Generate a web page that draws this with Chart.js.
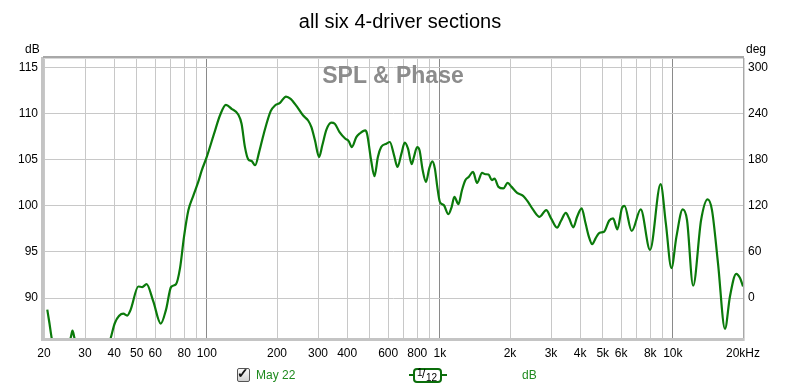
<!DOCTYPE html>
<html>
<head>
<meta charset="utf-8">
<script src="https://cdn.jsdelivr.net/npm/chart.js@4/dist/chart.umd.min.js"></script>
<style>
  html, body { margin:0; padding:0; background:#fff; }
  #wrap { position:relative; width:800px; height:390px; font-family:"Liberation Sans", Arial, sans-serif; }
  #c { position:absolute; left:0; top:0; }
  .lbl { position:absolute; white-space:nowrap; font-size:12px; line-height:14px; }
</style>
</head>
<body>
<div id="wrap">
  <canvas id="c" width="800" height="390"></canvas>
  <div class="lbl" style="left:25px;top:42px;color:#000;">dB</div>
  <div class="lbl" style="left:746px;top:42px;color:#000;">deg</div>
  <div class="lbl" style="left:0;width:786px;top:61px;text-align:center;font-size:23px;line-height:28px;font-weight:bold;color:#8c8c8c;">SPL &amp; Phase</div>
  <div style="position:absolute;left:237px;top:368px;width:11px;height:12px;border:1px solid #555;border-radius:2px;background:linear-gradient(#fafafa,#cfcfcf);"></div>
  <div class="lbl" style="left:236px;top:366px;width:14px;text-align:center;font-size:14px;font-weight:bold;color:#111;">&#10003;</div>
  <div class="lbl" style="left:256px;top:368px;color:#1f8a1f;">May 22</div>
  <div style="position:absolute;left:409px;top:374px;width:38px;height:2px;background:#0b6e0b;"></div>
  <div style="position:absolute;left:413px;top:368px;width:25px;height:11px;border:2px solid #0b6e0b;border-radius:4px;background:#fff;"></div>
  <div class="lbl" style="left:417px;top:367px;font-size:10px;line-height:11px;color:#000;">1</div>
  <div class="lbl" style="left:422px;top:368px;font-size:12px;line-height:13px;color:#000;">/</div>
  <div class="lbl" style="left:426px;top:372px;font-size:10px;line-height:11px;color:#000;">12</div>
  <div class="lbl" style="left:522px;top:368px;color:#1f8a1f;">dB</div>
</div>
<script>
// ---- data ----
const freqs = [20.66, 21.1, 21.6, 22.5, 24, 25.3, 26.1, 26.5, 27.0, 28, 31, 35, 37.5, 38.7, 40.3, 43.8, 45.5, 47.1, 50.8, 52.8, 55.1, 58.9, 63.4, 66.8, 70.2, 73.7, 76.7, 79.8, 83.3, 87.5, 91.9, 95, 99.9, 107.4, 113.9, 120.7, 127.7, 136.3, 140.9, 145.7, 150.5, 155.6, 161.2, 167.6, 175.5, 187.9, 196, 206, 218.6, 228.8, 242.8, 259, 272, 281, 291, 303, 313, 326, 342, 354, 371, 393, 406, 419, 438, 452, 478, 487, 507, 524, 542, 560, 590, 610, 636, 658, 684, 707, 730, 757, 774, 799, 818, 844, 872, 900, 928, 952, 975, 1000, 1040, 1088, 1124, 1154, 1202, 1244, 1286, 1330, 1388, 1444, 1518, 1568, 1618, 1672, 1716, 1784, 1872, 1954, 2032, 2146, 2276, 2390, 2508, 2680, 2860, 3002, 3184, 3308, 3472, 3586, 3738, 3882, 4060, 4220, 4360, 4508, 4660, 4850, 5066, 5324, 5540, 5780, 6040, 6200, 6660, 7280, 7980, 8860, 9330, 9860, 10360, 11020, 11500, 12220, 13220, 14100, 14720, 15620, 16740, 17580, 18700, 19420, 20000];
const splDb = [88.74, 87.3, 85.6, 83.8, 83.0, 84.6, 85.8, 86.47, 85.7, 84.2, 82.5, 82.8, 84.6, 85.7, 87.3, 88.3, 88.1, 88.74, 91.25, 91.19, 91.5, 89.63, 87.23, 88.74, 91.19, 91.5, 93.24, 96.65, 99.5, 101.1, 102.6, 103.8, 105.28, 107.8, 109.8, 110.93, 110.5, 109.88, 108.88, 106.35, 105.03, 104.84, 104.38, 105.8, 107.8, 110.24, 110.85, 111.14, 111.82, 111.57, 110.78, 109.77, 109.23, 108.51, 107.08, 105.28, 106.54, 108.23, 108.99, 108.88, 107.97, 107.26, 107.0, 106.35, 107.43, 107.8, 108.16, 107.8, 104.92, 103.19, 105.28, 106.35, 106.72, 106.9, 105.46, 104.2, 105.64, 106.83, 106.18, 104.49, 105.28, 106.35, 106.0, 103.84, 102.58, 104.02, 104.81, 104.02, 102.04, 100.42, 100.06, 99.09, 99.88, 100.96, 100.17, 101.68, 102.76, 103.12, 103.66, 102.47, 103.55, 103.41, 103.38, 102.76, 102.94, 102.04, 101.87, 102.47, 102.04, 101.39, 101.07, 100.42, 99.6, 98.8, 99.52, 98.63, 97.62, 98.34, 99.23, 98.63, 97.66, 98.8, 99.71, 98.09, 96.65, 95.83, 96.47, 97.08, 97.18, 98.37, 98.63, 97.44, 99.71, 99.98, 97.26, 99.6, 95.21, 102.33, 98.09, 93.24, 96.65, 99.6, 98.45, 91.33, 98.45, 100.68, 99.52, 93.78, 86.66, 90.17, 92.62, 92.16, 91.25];
const xGrid = [20,30,40,50,60,70,80,90,100,200,300,400,500,600,700,800,900,1000,2000,3000,4000,5000,6000,7000,8000,9000,10000,20000];
const xLabels = {20:'20',30:'30',40:'40',50:'50',60:'60',80:'80',100:'100',200:'200',300:'300',400:'400',600:'600',800:'800',1000:'1k',2000:'2k',3000:'3k',4000:'4k',5000:'5k',6000:'6k',8000:'8k',10000:'10k',20000:'20kHz'};
const dbTicks = [90,95,100,105,110,115];
const degTicks = [0,60,120,180,240,300];
const decadeLines = [100,1000,10000];

const points = freqs.map((f,i)=>({x:f, y:splDb[i]}));

const framePlugin = {
  id:'frame',
  afterDatasetsDraw(chart){
    const {ctx, chartArea:a} = chart;
    ctx.save();
    ctx.fillStyle = '#c4c4c4';
    ctx.fillRect(a.left-3, a.top-1, 3, a.bottom-a.top+4);
    ctx.fillRect(a.left-3, a.bottom, a.right-a.left+4, 3);
    ctx.fillStyle = '#a8a8a8';
    ctx.fillRect(a.left-1, a.top-2, a.right-a.left+2, 2);
    ctx.fillStyle = '#d8d8d8';
    ctx.fillRect(a.left, a.top, a.right-a.left, 1);
    ctx.fillStyle = '#a8a8a8';
    ctx.fillRect(a.right, a.top-2, 1, a.bottom-a.top+2);
    ctx.fillStyle = '#d8d8d8';
    ctx.fillRect(a.right+1, a.top, 1, a.bottom-a.top+3);
    ctx.restore();
  }
};

new Chart(document.getElementById('c'), {
  type:'line',
  data:{ datasets:[{
    data: points,
    borderColor:'#0b7a0b',
    borderWidth:2.2,
    pointRadius:0,
    cubicInterpolationMode:'monotone',
    fill:false,
    clip:0,
    yAxisID:'y'
  }]},
  options:{
    responsive:false,
    animation:false,
    events:[],
    layout:{ padding:{left:0,right:0,top:0,bottom:0} },
    plugins:{
      legend:{display:false},
      tooltip:{enabled:false},
      title:{
        display:true,
        text:'all six 4-driver sections',
        color:'#000',
        font:{family:'"Liberation Sans", Arial, sans-serif', size:20, weight:'normal'},
        padding:{top:10,bottom:24}
      }
    },
    scales:{
      x:{
        type:'logarithmic',
        min:20, max:20000,
        afterBuildTicks(s){ s.ticks = xGrid.map(v=>({value:v})); },
        afterFit(s){ s.height = 52; },
        ticks:{
          autoSkip:false, maxRotation:0, minRotation:0,
          padding:8,
          color:'#000',
          font:{family:'"Liberation Sans", Arial, sans-serif', size:12},
          callback(v){ return xLabels[v] || ''; }
        },
        grid:{
          drawTicks:false,
          color(c){ return (c.tick && decadeLines.includes(c.tick.value)) ? '#8a8a8a' : '#c8c8c8'; },
          lineWidth:1
        },
        border:{display:false}
      },
      y:{
        type:'linear', position:'left',
        min:85.67, max:116,
        afterBuildTicks(s){ s.ticks = dbTicks.map(v=>({value:v})); },
        afterFit(s){ s.width = 44; },
        ticks:{
          padding:6, color:'#000',
          font:{family:'"Liberation Sans", Arial, sans-serif', size:12},
          callback(v){ return String(v); }
        },
        grid:{ drawTicks:false, color:'#c8c8c8', lineWidth:1 },
        border:{display:false}
      },
      y2:{
        type:'linear', position:'right',
        min:-52, max:312,
        afterBuildTicks(s){ s.ticks = degTicks.map(v=>({value:v})); },
        afterFit(s){ s.width = 57; },
        ticks:{
          padding:5, color:'#000',
          font:{family:'"Liberation Sans", Arial, sans-serif', size:12},
          callback(v){ return String(v); }
        },
        grid:{ display:false, drawTicks:false },
        border:{display:false}
      }
    }
  },
  plugins:[framePlugin]
});
</script>
</body>
</html>
